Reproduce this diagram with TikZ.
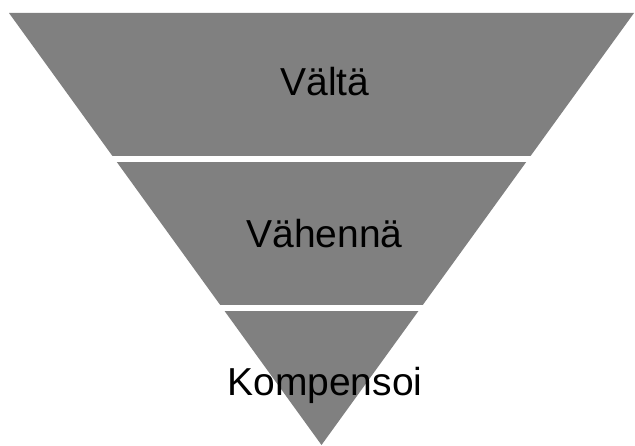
\documentclass[tikz,border=0pt]{standalone}
\usepackage{fontspec}
\setmainfont{Liberation Sans}
\begin{document}
\begin{tikzpicture}[x=1pt,y=1pt,
  band/.style={fill=gray!100!white, draw=none},
  gap/.style={draw=white, line width=6pt},
  label/.style={anchor=base, inner sep=0pt, text=black,
    font=\fontsize{39}{47}\selectfont}]
  \useasboundingbox (0,0) rectangle (635,445);
  \fill[white] (0,0) rectangle (635,445);
  % inverted triangle
  \coordinate (tl) at (9,432);
  \coordinate (tr) at (634,432);
  \coordinate (apex) at (321.5,0);
  \fill[fill={rgb,255:red,128;green,128;blue,128}] (tl) -- (tr) -- (apex) -- cycle;
  % white separators between the levels
  \draw[gap] (0,286) -- (635,286);
  \draw[gap] (0,137) -- (635,137);
  % level labels
  \node[label] (t1) at (325,349) {Vältä};
  \node[label] (t2) at (324.5,197) {Vähennä};
  \node[label] (t3) at (325,50) {Kompensoi};
\end{tikzpicture}
\end{document}
